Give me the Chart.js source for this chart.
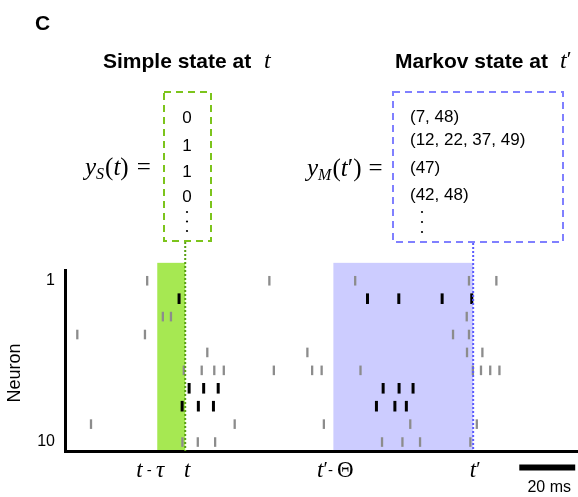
<!DOCTYPE html>
<html>
<head>
<meta charset="utf-8">
<script src="https://cdn.jsdelivr.net/npm/chart.js@4.4.0/dist/chart.umd.min.js"></script>
<style>
  body { margin: 0; background: #fff; }
</style>
</head>
<body>
<canvas id="raster" width="578" height="497"></canvas>
<script>
// neurons (rows) and their spike times in ms
const neurons = [1, 2, 3, 4, 5, 6, 7, 8, 9, 10];
const spikeTimes = [
  [29.4, 73.1, 103.8, 144.5, 154.3],
  [40.8, 108.2, 119.4, 134.9, 145.5],
  [35.0, 37.9, 143.7],
  [4.4, 28.6, 138.8, 144.5],
  [50.9, 86.7, 143.8, 149.3],
  [42.5, 48.9, 53.4, 56.8, 74.7, 88.4, 91.8, 105.7, 145.9, 148.8, 152.1, 155.4],
  [44.4, 49.6, 54.8, 113.8, 119.5, 124.5],
  [41.9, 47.7, 53.1, 111.4, 118.0, 122.1],
  [9.3, 60.7, 92.6, 123.5, 147.3],
  [42.0, 47.5, 53.7, 113.4, 120.7, 127.0, 145.0]
];
const patternNeurons = [2, 7, 8];
const tickNeurons = [1, 10];

const simpleState = ['0', '1', '1', '0'];
const markovState = ['(7, 48)', '(12, 22, 37, 49)', '(47)', '(42, 48)'];

const tNow = 43;
const tau = 10;
const tPrime = 146;
const theta = 50;
const scaleBarStart = 162.5;
const scaleBarLength = 20;

const SANS = '"Liberation Sans", Arial, sans-serif';
const SERIF = '"Liberation Serif", "Times New Roman", serif';

const grayPts = [];
const blackPts = [];
neurons.forEach((n, i) => {
  spikeTimes[i].forEach(v => {
    if (patternNeurons.includes(n)) blackPts.push({x: v, y: n});
    else grayPts.push({x: v, y: n});
  });
});

// draws a row of text runs (different fonts) starting at x
function drawRuns(ctx, runs, x, y, align) {
  let total = 0;
  runs.forEach(r => { ctx.font = r.f; r.w = ctx.measureText(r.t).width + (r.gap || 0); total += r.w; });
  let cx = x;
  if (align === 'center') cx = x - total / 2;
  if (align === 'right') cx = x - total;
  ctx.textAlign = 'left';
  runs.forEach(r => {
    ctx.font = r.f;
    ctx.fillText(r.t, cx, y + (r.dy || 0));
    cx += r.w;
  });
}

function dots(ctx, x, ys) {
  ys.forEach(y => { ctx.beginPath(); ctx.arc(x, y, 1.1, 0, Math.PI * 2); ctx.fill(); });
}

const annotations = {
  id: 'annotations',
  beforeDraw(chart) {
    const {ctx, chartArea, scales: {x, y}} = chart;
    const top = y.getPixelForValue(0);
    ctx.save();
    ctx.fillStyle = 'rgb(166,232,82)';
    let x0 = x.getPixelForValue(tNow - tau), x1 = x.getPixelForValue(tNow);
    ctx.fillRect(x0, top, x1 - x0, chartArea.bottom - top);
    ctx.fillStyle = 'rgb(204,204,255)';
    x0 = x.getPixelForValue(tPrime - theta); x1 = x.getPixelForValue(tPrime);
    ctx.fillRect(x0, top, x1 - x0, chartArea.bottom - top);
    ctx.restore();
  },
  afterDatasetsDraw(chart) {
    const {ctx, chartArea, scales: {x}} = chart;
    ctx.save();
    ctx.lineWidth = 2;
    ctx.setLineDash([2, 2]);
    ctx.strokeStyle = '#58a012';
    let px = x.getPixelForValue(tNow);
    ctx.beginPath(); ctx.moveTo(px, 242); ctx.lineTo(px, chartArea.bottom); ctx.stroke();
    ctx.strokeStyle = '#5a5aff';
    px = x.getPixelForValue(tPrime);
    ctx.beginPath(); ctx.moveTo(px, 243); ctx.lineTo(px, chartArea.bottom); ctx.stroke();
    ctx.restore();
  },
  afterDraw(chart) {
    const {ctx, scales: {x}} = chart;
    ctx.save();
    ctx.fillStyle = '#000';
    ctx.textBaseline = 'alphabetic';

    // panel letter
    ctx.font = 'bold 21px ' + SANS;
    ctx.fillText('C', 35, 30);

    // y axis title
    ctx.save();
    ctx.translate(15, 373);
    ctx.rotate(-Math.PI / 2);
    ctx.font = '18px ' + SANS;
    ctx.textAlign = 'center';
    ctx.textBaseline = 'middle';
    ctx.fillText('Neuron', 0, 0);
    ctx.restore();

    // titles
    drawRuns(ctx, [{t: 'Simple state at', f: 'bold 21px ' + SANS}], 103, 68, 'left');
    drawRuns(ctx, [{t: 't', f: 'italic 24px ' + SERIF}], 264, 68, 'left');
    drawRuns(ctx, [{t: 'Markov state at', f: 'bold 21px ' + SANS}], 395, 68, 'left');
    drawRuns(ctx, [{t: 't', f: 'italic 24px ' + SERIF}, {t: '\u2032', f: '22px ' + SERIF, dy: -2}], 560, 68, 'left');

    // dashed boxes
    ctx.lineWidth = 2;
    ctx.setLineDash([7, 5]);
    ctx.strokeStyle = '#7cc41c';
    ctx.strokeRect(164, 92, 47, 149);
    ctx.strokeStyle = '#8080ff';
    ctx.strokeRect(393, 92, 170, 150);
    ctx.setLineDash([]);

    // equations
    const m = 25;
    drawRuns(ctx, [
      {t: 'y', f: 'italic ' + m + 'px ' + SERIF},
      {t: 'S', f: 'italic 16px ' + SERIF, dy: 4, gap: 1},
      {t: '(', f: m + 'px ' + SERIF},
      {t: 't', f: 'italic ' + m + 'px ' + SERIF},
      {t: ')', f: m + 'px ' + SERIF, gap: 8},
      {t: '=', f: m + 'px ' + SERIF}
    ], 85, 175, 'left');
    drawRuns(ctx, [
      {t: 'y', f: 'italic ' + m + 'px ' + SERIF},
      {t: 'M', f: 'italic 16px ' + SERIF, dy: 4, gap: 1},
      {t: '(', f: m + 'px ' + SERIF},
      {t: 't', f: 'italic ' + m + 'px ' + SERIF},
      {t: '\u2032', f: m + 'px ' + SERIF},
      {t: ')', f: m + 'px ' + SERIF, gap: 7},
      {t: '=', f: m + 'px ' + SERIF}
    ], 307, 176, 'left');

    // state contents
    ctx.textBaseline = 'middle';
    ctx.font = '17px ' + SANS;
    ctx.textAlign = 'center';
    const simpleY = [118, 146, 172, 197];
    simpleState.forEach((s, i) => ctx.fillText(s, 187, simpleY[i]));
    dots(ctx, 187, [212, 221.5, 231]);
    ctx.textAlign = 'left';
    const markovY = [117, 140, 168, 195];
    markovState.forEach((s, i) => ctx.fillText(s, 410, markovY[i]));
    dots(ctx, 422, [212, 222, 232]);

    // time labels under the axis
    ctx.textBaseline = 'middle';
    const ly = 471;
    drawRuns(ctx, [
      {t: 't', f: 'italic 23px ' + SERIF},
      {t: ' - ', f: '15px ' + SANS},
      {t: '\u03c4', f: 'italic 23px ' + SERIF}
    ], x.getPixelForValue(tNow - tau) - 7, ly, 'center');
    drawRuns(ctx, [{t: 't', f: 'italic 23px ' + SERIF}], x.getPixelForValue(tNow) + 2, ly, 'center');
    drawRuns(ctx, [
      {t: 't', f: 'italic 23px ' + SERIF},
      {t: '\u2032', f: '20px ' + SERIF},
      {t: '- ', f: '15px ' + SANS},
      {t: '\u0398', f: '23px ' + SERIF}
    ], x.getPixelForValue(tPrime - theta) + 2, ly, 'center');
    drawRuns(ctx, [
      {t: 't', f: 'italic 23px ' + SERIF},
      {t: '\u2032', f: '20px ' + SERIF}
    ], x.getPixelForValue(tPrime) + 2, ly, 'center');

    // scale bar
    const b0 = x.getPixelForValue(scaleBarStart), b1 = x.getPixelForValue(scaleBarStart + scaleBarLength);
    ctx.fillRect(b0, 464.5, b1 - b0, 6);
    ctx.font = '16px ' + SANS;
    ctx.textAlign = 'center';
    ctx.fillText(scaleBarLength + ' ms', (b0 + b1) / 2 + 2, 488);
    ctx.restore();
  }
};

const ctx = document.getElementById('raster');
new Chart(ctx, {
  type: 'scatter',
  data: {
    datasets: [{
      label: 'spikes',
      data: grayPts,
      pointStyle: 'line',
      pointRotation: 90,
      pointRadius: 4.8,
      pointHoverRadius: 4.8,
      pointBorderColor: '#8c8c8c',
      pointBorderWidth: 2.3
    }, {
      label: 'pattern spikes',
      data: blackPts,
      pointStyle: 'line',
      pointRotation: 90,
      pointRadius: 5.3,
      pointHoverRadius: 5.3,
      pointBorderColor: '#000',
      pointBorderWidth: 3
    }]
  },
  options: {
    responsive: false,
    animation: false,
    devicePixelRatio: 1,
    layout: { autoPadding: false, padding: { top: 270, left: 0, right: 0, bottom: 0 } },
    plugins: { legend: { display: false }, tooltip: { enabled: false } },
    scales: {
      x: {
        type: 'linear', min: 0, max: 183.5,
        ticks: { display: false },
        grid: { display: false, drawTicks: false },
        border: { color: '#000', width: 3 },
        afterFit(s) { s.height = 46; }
      },
      y: {
        type: 'linear', reverse: true, min: 0.4, max: 10.5,
        afterBuildTicks(s) { s.ticks = tickNeurons.map(v => ({value: v})); },
        ticks: { color: '#000', font: { size: 16, family: SANS }, padding: 10 },
        grid: { display: false, drawTicks: false },
        border: { color: '#000', width: 3 },
        afterFit(s) { s.width = 65; }
      }
    }
  },
  plugins: [annotations]
});
</script>
</body>
</html>
